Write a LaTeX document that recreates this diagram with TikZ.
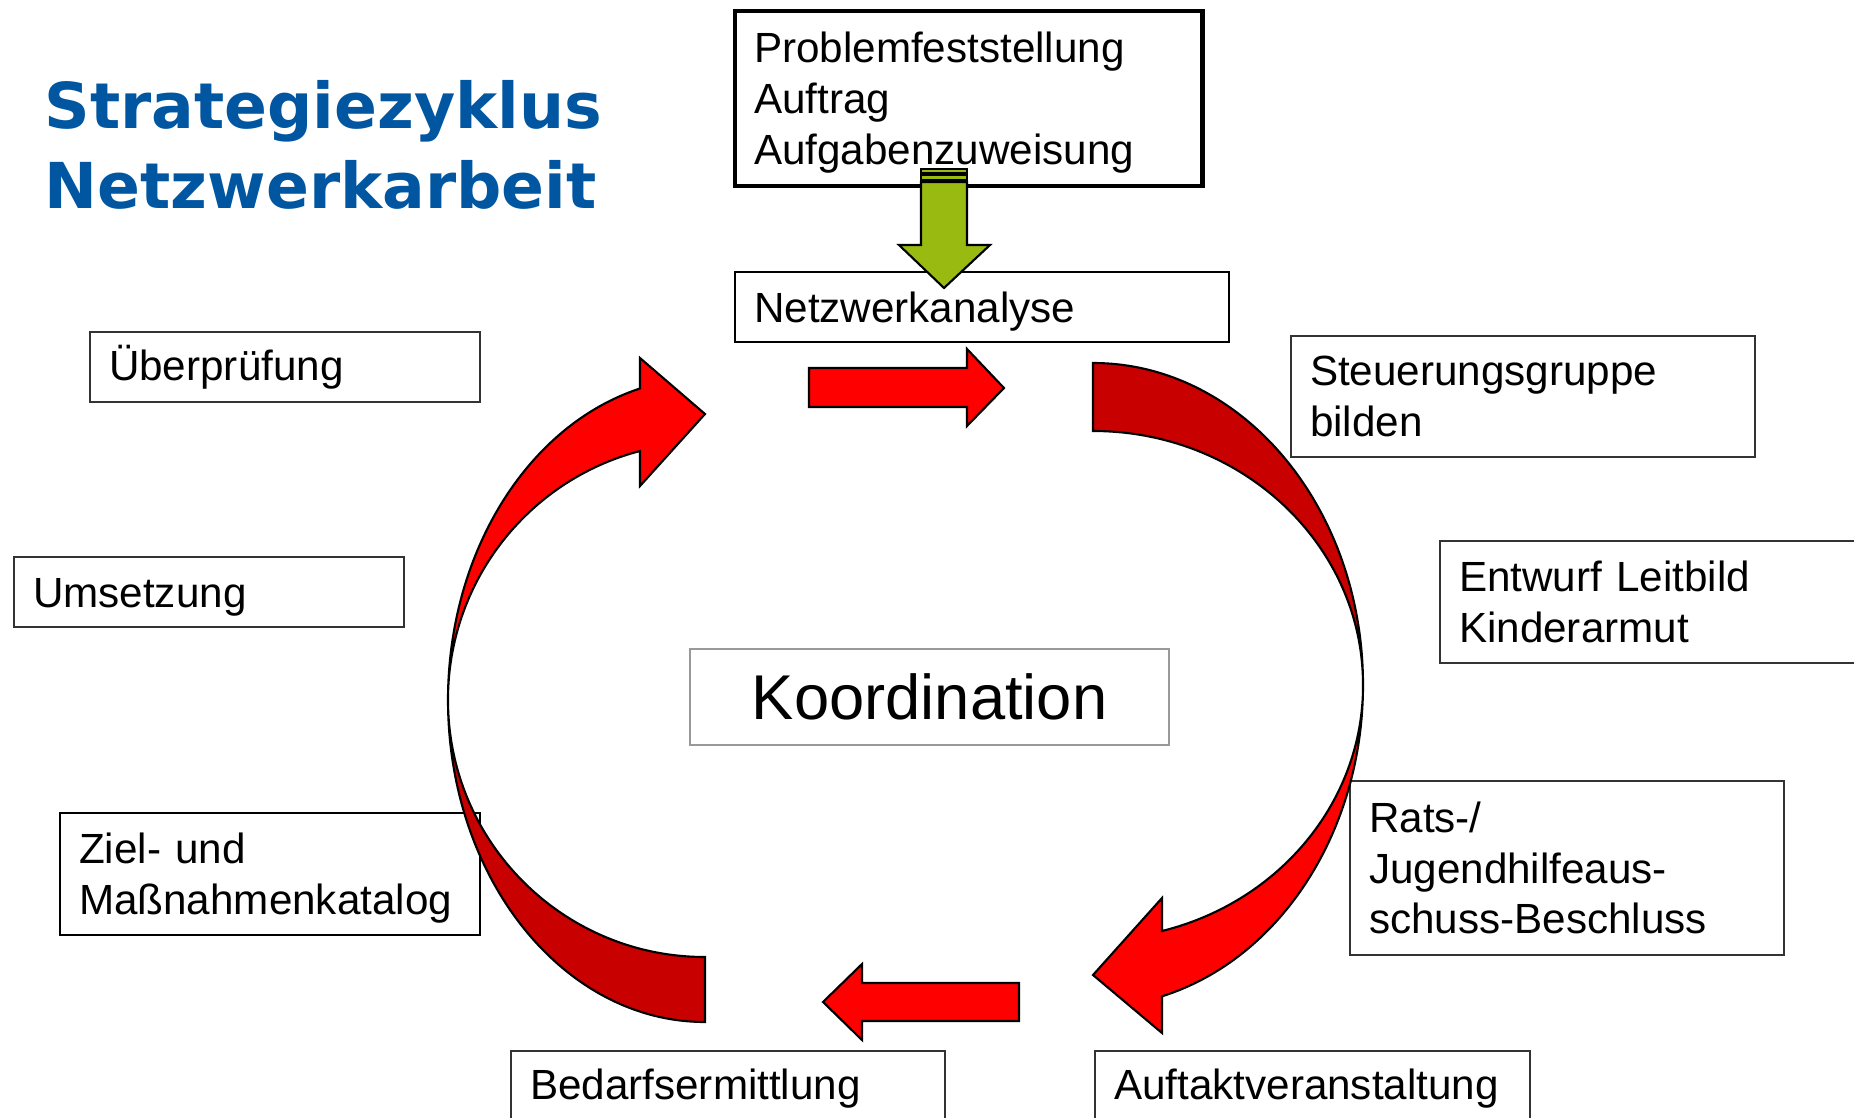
\documentclass[tikz,border=0pt]{standalone}
\usepackage{fontspec}
\setmainfont{Liberation Sans}
\newfontfamily\titlefont{DejaVu Sans}
\definecolor{titleblue}{RGB}{0,86,160}
\definecolor{arrowred}{RGB}{255,0,0}
\definecolor{backred}{RGB}{200,0,0}
\definecolor{grassgreen}{RGB}{153,187,17}

\begin{document}
\begin{tikzpicture}[x=0.01cm, y=-0.01cm,
    stepbox/.style={draw=black!80, line width=0.6pt, anchor=north west, align=left,
      inner xsep=0.19cm, inner ysep=0pt, font=\fontsize{12}{14.4}\selectfont},
    lowered/.style={execute at begin node={\rule{0pt}{11pt}}},
    titleline/.style={anchor=base west, inner sep=0pt, text=titleblue,
      font=\titlefont\bfseries\fontsize{18}{22}\selectfont},
    blockarrow/.style={draw=black, line width=0.6pt, line join=miter}]
  \useasboundingbox (0,0) rectangle (1854,1118);

  % Title
  \node[titleline] (title1) at (44,128) {Strategiezyklus};
  \node[titleline] (title2) at (44,208) {Netzwerkarbeit};

  % Boxes of the cycle
  \node[stepbox, lowered, line width=1.2pt, draw=black, text width=4.29cm, minimum height=1.75cm] (problem) at (733,9) {Problemfeststellung\\Auftrag\\Aufgabenzuweisung};
  \node[stepbox, lowered, draw=black, text width=4.56cm, minimum height=0.70cm] (netz) at (734,271) {Netzwerkanalyse};
  \node[stepbox, text width=4.26cm, minimum height=1.21cm] (steuer) at (1290,335) {Steuerungsgruppe\\bilden};
  \node[stepbox, text width=3.92cm, minimum height=1.22cm] (leitbild) at (1439,540) {Entwurf Leitbild\\Kinderarmut};
  \node[stepbox, text width=3.96cm, minimum height=1.74cm] (beschluss) at (1349,780) {Rats-/\\Jugendhilfeaus-\\schuss-Beschluss};
  \node[stepbox, text width=3.97cm, minimum height=0.75cm] (auftakt) at (1094,1050) {Auftaktveranstaltung};
  \node[stepbox, text width=3.96cm, minimum height=0.75cm] (bedarf) at (510,1050) {Bedarfsermittlung};
  \node[stepbox, lowered, draw=black, text width=3.82cm, minimum height=1.22cm] (ziel) at (59,812) {Ziel- und\\Maßnahmenkatalog};
  \node[stepbox, lowered, text width=3.52cm, minimum height=0.70cm] (umsetzung) at (13,556) {Umsetzung};
  \node[stepbox, text width=3.52cm, minimum height=0.70cm] (pruefung) at (89,331) {Überprüfung};

  % Centre
  \node[stepbox, draw=black!40, align=center, text width=4.41cm, minimum height=0.96cm,
    font=\fontsize{18}{21}\selectfont] (koord) at (689,648) {Koordination};

  % Green arrow from the task to the analysis
  \filldraw[blockarrow, fill=grassgreen] (921,169) rectangle (967,173);
  \filldraw[blockarrow, fill=grassgreen] (921,175) rectangle (967,180);
  \filldraw[blockarrow, fill=grassgreen] (921,182) -- (967,182) -- (967,245) -- (990,245)
    -- (944,288) -- (899,245) -- (921,245) -- cycle;

  % Straight arrows
  \filldraw[blockarrow, fill=arrowred] (809,368) -- (967,368) -- (967,349) -- (1004,388)
    -- (967,426) -- (967,407) -- (809,407) -- cycle;
  \filldraw[blockarrow, fill=arrowred] (1019,983) -- (862,983) -- (862,964) -- (823,1002)
    -- (862,1040) -- (862,1021) -- (1019,1021) -- cycle;

  % Right curved arrow (back part, then front part)
  \filldraw[blockarrow, fill=backred] (1093,363)
    arc[start angle=-90, end angle=0, x radius=270, y radius=322]
    arc[start angle=0, end angle=-90, x radius=270, y radius=254] -- cycle;
  \filldraw[blockarrow, fill=arrowred] (1363,685)
    arc[start angle=0, end angle=75.2, x radius=270, y radius=322]
    -- (1162,1033) -- (1093,975) -- (1162,898) -- (1162,931)
    arc[start angle=75.2, end angle=0, x radius=270, y radius=254] -- cycle;

  % Left curved arrow (back part, then front part)
  \filldraw[blockarrow, fill=backred] (705,1022)
    arc[start angle=90, end angle=180, x radius=257, y radius=322]
    arc[start angle=180, end angle=90, x radius=257, y radius=257] -- cycle;
  \filldraw[blockarrow, fill=arrowred] (448,700)
    arc[start angle=180, end angle=255.35, x radius=257, y radius=322]
    -- (640,358) -- (705,414) -- (640,486) -- (640,451)
    arc[start angle=255.35, end angle=180, x radius=257, y radius=257] -- cycle;
\end{tikzpicture}
\end{document}
